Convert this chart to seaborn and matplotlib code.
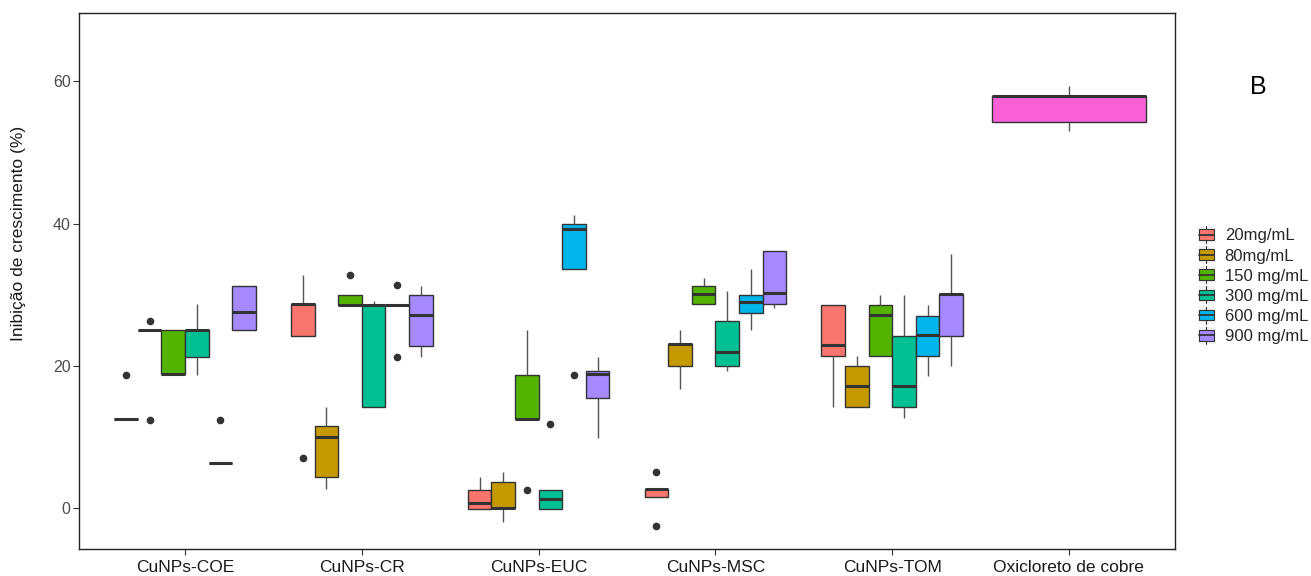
import numpy as np
import pandas as pd
import matplotlib
matplotlib.use("Agg")
import matplotlib.pyplot as plt
import seaborn as sns
from matplotlib import font_manager
from matplotlib.legend_handler import HandlerBase
from matplotlib.patches import Rectangle
from matplotlib.lines import Line2D

# ---------------- data ----------------
categories = ["CuNPs-COE", "CuNPs-CR", "CuNPs-EUC", "CuNPs-MSC", "CuNPs-TOM", "Oxicloreto de cobre"]
concentrations = ["20mg/mL", "80mg/mL", "150 mg/mL", "300 mg/mL", "600 mg/mL", "900 mg/mL"]
colors = ["#F8766D", "#C49A00", "#53B400", "#00C094", "#00B6EB", "#A58AFF"]
oxi_color = "#FB61D7"

# one sub-list of replicate values per concentration (20 ... 900)
coe = [[12.5, 12.5, 12.5, 12.5, 18.7],
       [12.4, 25.1, 25.1, 25.1, 26.3],
       [18.8, 18.8, 18.8, 25.0, 25.0],
       [18.7, 21.3, 25.1, 25.1, 28.7],
       [6.3, 6.3, 6.3, 6.3, 12.4],
       [25.0, 25.0, 27.5, 31.2, 31.2]]
cr = [[7.0, 24.2, 28.7, 28.7, 32.8],
      [2.7, 4.3, 10.0, 11.5, 14.2],
      [28.6, 28.6, 28.6, 29.9, 32.8],
      [14.2, 14.2, 28.6, 28.6, 29.1],
      [21.3, 28.6, 28.6, 28.6, 31.3],
      [21.3, 22.8, 27.2, 30.0, 31.2]]
euc = [[-0.15, -0.15, 0.75, 2.5, 4.3],
       [-1.9, 0.0, 0.0, 3.65, 5.0],
       [2.5, 12.5, 12.5, 18.7, 25.0],
       [-0.1, -0.1, 1.3, 2.5, 11.8],
       [18.7, 33.6, 39.3, 40.0, 41.2],
       [9.9, 15.4, 18.8, 19.3, 21.2]]
msc = [[-2.5, 1.6, 2.7, 2.7, 5.0],
       [16.7, 20.0, 23.1, 23.1, 25.0],
       [28.7, 28.7, 30.1, 31.2, 32.4],
       [19.3, 20.0, 21.9, 26.3, 30.5],
       [25.0, 27.4, 28.9, 29.9, 33.6],
       [28.1, 28.7, 30.3, 36.1, 36.1]]
tom = [[14.2, 21.4, 22.9, 28.5, 28.5],
       [14.2, 14.2, 17.1, 19.9, 21.4],
       [21.4, 21.4, 27.1, 28.5, 29.9],
       [12.7, 14.2, 17.1, 24.2, 29.9],
       [18.5, 21.4, 24.3, 27.0, 28.5],
       [19.9, 24.2, 30.1, 30.1, 35.7]]
oxi = [53.0, 54.3, 58.0, 58.0, 59.3]

y_ticks = [0, 20, 40, 60]
y_label = "Inibição de crescimento (%)"
panel_tag = "B"

# ---------------- build long table ----------------
rows = []
for cat, groups in zip(categories[:5], [coe, cr, euc, msc, tom]):
    for conc, vals in zip(concentrations, groups):
        for v in vals:
            rows.append((cat, conc, v))
df = pd.DataFrame(rows, columns=["amostra", "conc", "inib"])
df_oxi = pd.DataFrame({"amostra": categories[5], "inib": oxi})

# ---------------- fonts ----------------
sns.set_theme(style="white")
avail = {f.name for f in font_manager.fontManager.ttflist}
narrow = "Liberation Sans Narrow" if "Liberation Sans Narrow" in avail else "Liberation Sans"
plt.rcParams["font.family"] = ["Liberation Sans", "DejaVu Sans"]

W, H = 1311, 576
fig = plt.figure(figsize=(W / 100, H / 100), dpi=100)
ax = fig.add_axes([79 / W, 1 - 549 / H, (1175 - 79) / W, (549 - 13) / H])

line_c = "#333333"
common = dict(saturation=1, linecolor=line_c, linewidth=1.0,
              medianprops=dict(linewidth=2.2, color=line_c),
              whiskerprops=dict(linewidth=1.0, color="#555555"),
              capprops=dict(linewidth=0),
              flierprops=dict(marker="o", markersize=4.5, markerfacecolor=line_c,
                              markeredgecolor=line_c),
              showcaps=False)

sns.boxplot(data=df, x="amostra", y="inib", hue="conc", order=categories,
            hue_order=concentrations, palette=colors, width=0.8, gap=0,
            ax=ax, legend=False, **common)
sns.boxplot(data=df_oxi, x="amostra", y="inib", order=categories, color=oxi_color,
            width=0.87, ax=ax, **common)

ax.set_xlim(-0.6, 5.6)
ax.set_ylim(-5.76, 69.6)
ax.set_yticks(y_ticks)
ax.set_xlabel("")
ax.set_ylabel("")
for s in ax.spines.values():
    s.set_visible(True)
    s.set_color("#222222")
    s.set_linewidth(1.0)
ax.tick_params(axis="both", which="both", length=4, width=0.8, color="#333333",
               bottom=True, left=True)
ax.tick_params(axis="y", labelsize=11.5, labelcolor="#4D4D4D", pad=2)
ax.tick_params(axis="x", pad=4)
for t in ax.get_xticklabels():
    t.set_fontfamily(narrow)
    t.set_fontsize(14 if narrow != "Liberation Sans" else 12.5)
    t.set_color("#1A1A1A")

fig.text(19 / W, 1 - 233 / H, y_label, rotation=90, ha="center", va="center",
         fontsize=12.5, color="#1A1A1A")
fig.text(1258 / W, 1 - 87 / H, panel_tag, ha="center", va="center", fontsize=18,
         color="black")


# legend with small box-plot glyphs
class BoxHandler(HandlerBase):
    def create_artists(self, legend, orig_handle, xdescent, ydescent, width, height,
                       fontsize, trans):
        fc = orig_handle.get_facecolor()
        x0 = -xdescent + width * 0.05
        w = width * 0.9
        y0 = -ydescent
        bg = Rectangle((-xdescent, y0 - height * 0.05), width, height * 1.1,
                       facecolor="#F2F2F2", edgecolor="none", transform=trans)
        r = Rectangle((x0, y0 + height * 0.15), w, height * 0.7,
                      facecolor=fc, edgecolor=line_c, linewidth=0.8, transform=trans)
        cx = -xdescent + width / 2
        mid = y0 + height / 2
        l1 = Line2D([x0, x0 + w], [mid, mid], color=line_c,
                    linewidth=1.3, transform=trans)
        l2 = Line2D([cx, cx], [y0 - height * 0.05, y0 + height * 0.15],
                    color=line_c, linewidth=0.8, transform=trans)
        l3 = Line2D([cx, cx], [y0 + height * 0.85, y0 + height * 1.05],
                    color=line_c, linewidth=0.8, transform=trans)
        return [bg, l2, l3, r, l1]


handles = [Rectangle((0, 0), 1, 1, facecolor=c) for c in colors]
fig.legend(handles, concentrations, loc="upper left",
           bbox_to_anchor=(1198 / W, 1 - 227 / H), frameon=False, fontsize=12,
           handler_map={Rectangle: BoxHandler()}, handlelength=1.0,
           handleheight=1.05, handletextpad=0.6, labelspacing=0.22,
           borderpad=0, borderaxespad=0)

fig.savefig("out.png", dpi=100)
